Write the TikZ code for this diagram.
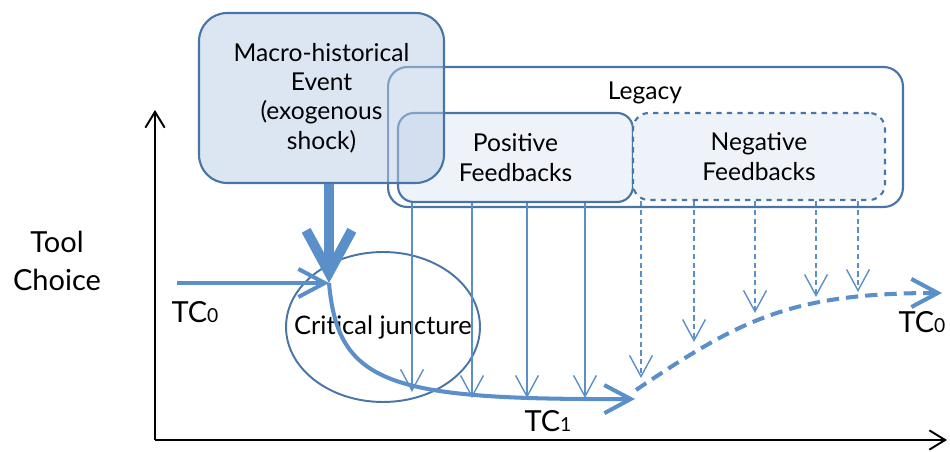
\documentclass[tikz,border=0pt]{standalone}
\usepackage{fontspec}
\setmainfont{Lato}
\usetikzlibrary{arrows.meta,shapes.geometric,positioning}

\definecolor{lineblue}{RGB}{91,143,201}
\definecolor{boxline}{RGB}{72,116,166}
\definecolor{macrofill}{RGB}{185,205,229}
\definecolor{fbfill}{RGB}{238,243,250}

\newcommand{\tcsub}[1]{{\fontsize{11}{11}\selectfont #1}}

\begin{document}
\begin{tikzpicture}[x=0.02cm,y=-0.02cm,
    box/.style={draw=boxline,line width=1.2pt,rounded corners=9pt,align=center,
      font=\fontsize{14}{16.7}\selectfont},
    axis/.style={->,line width=1.1pt,>={Straight Barb[length=9pt,width=11pt]}},
    tcarrow/.style={->,lineblue,line width=2.3pt,>={Straight Barb[length=15pt,width=16pt]}},
    shock/.style={->,lineblue,line width=5.7pt,>={Straight Barb[length=24pt,width=26pt]}},
    posfb/.style={->,lineblue,line width=0.8pt,>={Straight Barb[length=12pt,width=13pt]}},
    negfb/.style={posfb,dash pattern=on 3pt off 2pt},
    bigtext/.style={font=\fontsize{16.5}{21.5}\selectfont,align=center,inner sep=0pt}]
  \useasboundingbox (0,0) rectangle (950,452);

  % axes
  \coordinate (o) at (155,440);
  \coordinate (ytop) at (155,110);
  \coordinate (xend) at (947,440);
  \draw[axis] (o) -- (ytop);
  \draw[axis] (o) -- (xend);
  \node[bigtext] (toolchoice) at (57,261) {Tool\\Choice};

  % boxes
  \node[box,minimum width=10.3cm,minimum height=2.8cm,rounded corners=11pt] (legacy) at (645.5,137) {};
  \node[font=\fontsize{14}{16.7}\selectfont] (legacytxt) at (645,93) {Legacy};
  \node[box,fill=fbfill,minimum width=4.7cm,minimum height=1.78cm] (pos) at (515.5,157.5) {Positive\\Feedbacks};
  \node[box,dashed,fill=fbfill,minimum width=5.04cm,minimum height=1.74cm] (neg) at (759,156.5) {Negative\\Feedbacks};
  \node[box,fill=macrofill,fill opacity=0.5,text opacity=1,minimum width=4.9cm,minimum height=3.4cm,
    rounded corners=16pt] (macro) at (321.5,98) {Macro-historical\\Event\\(exogenous\\shock)};
  \node[ellipse,draw=boxline,line width=1.1pt,minimum width=3.88cm,minimum height=3cm,inner sep=0pt,
    label={[font=\fontsize{14.5}{16}\selectfont]center:Critical juncture}] (cj) at (383,327) {};

  % tool choice paths
  \coordinate (tc0start) at (177,283);
  \coordinate (jp) at (329,283);
  \coordinate (tc1end) at (635,399);
  \coordinate (negstart) at (636,390);
  \coordinate (tc0end) at (942,293);
  \draw[tcarrow] (tc0start) -- (jp);
  \draw[shock] (macro.south -| jp) -- (jp);
  \draw[tcarrow] (jp) .. controls (338,385) and (390,400) .. (tc1end);
  \draw[tcarrow,dash pattern=on 7pt off 4pt] (negstart) .. controls (740,320) and (790,293) .. (tc0end);
  \node[bigtext] (tc0a) at (195,312) {TC\tcsub{0}};
  \node[bigtext] (tc1) at (548,421) {TC\tcsub{1}};
  \node[bigtext] (tc0b) at (922,322) {TC\tcsub{0}};

  % feedbacks
  \foreach \x/\y [count=\i] in {412/392,472/398,527/398,585/398} {
    \coordinate (p\i) at (\x,\y);
    \draw[posfb] (p\i |- pos.south) -- (p\i);
  }
  \foreach \x/\y [count=\i] in {641/378,694/342,755/313,816/297,858/292} {
    \coordinate (n\i) at (\x,\y);
    \draw[negfb] (n\i |- neg.south) -- (n\i);
  }
\end{tikzpicture}
\end{document}
